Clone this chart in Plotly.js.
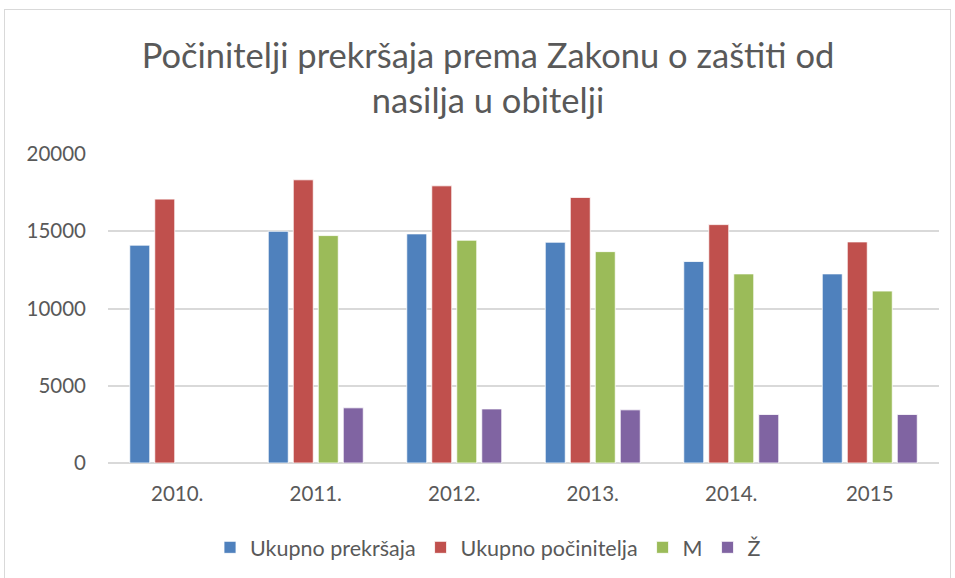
<!DOCTYPE html>
<html>
<head>
<meta charset="utf-8">
<script src="https://cdn.plot.ly/plotly-3.0.1.min.js"></script>
<style>
  html, body { margin: 0; padding: 0; background: #fff; }
  #wrap { position: relative; width: 955px; height: 578px; }
  #chart { position: absolute; left: 0; top: 0; width: 955px; height: 578px; }
  #frame { position: absolute; left: 4px; top: 9px; width: 945px; height: 600px; border: 1px solid #d9d9d9; pointer-events: none; }
</style>
</head>
<body>
<div id="wrap">
  <div id="chart"></div>
  <div id="frame"></div>
</div>
<script>
const categories = ["2010.", "2011.", "2012.", "2013.", "2014.", "2015"];
const ukupnoPrekrsaja = [14100, 15000, 14830, 14290, 13040, 12240];
const ukupnoPocinitelja = [17080, 18330, 17940, 17190, 15430, 14310];
const muski = [null, 14720, 14420, 13680, 12240, 11130];
const zenski = [null, 3570, 3500, 3440, 3140, 3140];
const seriesNames = ["Ukupno prekršaja", "Ukupno počinitelja", "M", "Ž"];
const yTicks = [0, 5000, 10000, 15000, 20000];

const colors = ["#4f81bd", "#c0504d", "#9bbb59", "#8064a2"];
const values = [ukupnoPrekrsaja, ukupnoPocinitelja, muski, zenski];
const FONT = "Lato, 'Open Sans', sans-serif";

const data = values.map((v, i) => ({
  type: "bar",
  name: seriesNames[i],
  x: categories,
  y: v,
  marker: { color: colors[i], line: { color: "#ffffff", width: 0.8 } },
  hoverinfo: "x+y+name"
}));

const layout = {
  width: 955,
  height: 578,
  margin: { l: 108, r: 16, t: 154, b: 115 },
  paper_bgcolor: "#ffffff",
  plot_bgcolor: "#ffffff",
  barmode: "group",
  bargap: 0.278,
  bargroupgap: 0.2,
  font: { family: FONT, color: "#595959", size: 20 },
  title: {
    text: "Počinitelji prekršaja prema Zakonu o zaštiti od<br>nasilja u obitelji",
    x: 0.511,
    xanchor: "center",
    y: 0.882,
    yanchor: "top",
    font: { family: FONT, size: 34.5, color: "#595959" }
  },
  xaxis: {
    type: "category",
    showgrid: false,
    showline: false,
    ticks: "",
    ticklabelstandoff: 16,
    tickfont: { family: FONT, size: 20.5, color: "#595959" },
    fixedrange: true
  },
  yaxis: {
    range: [0, 20000],
    tickvals: yTicks,
    ticktext: yTicks.map(String),
    showgrid: true,
    gridcolor: "#d9d9d9",
    gridwidth: 1.5,
    zeroline: true,
    zerolinecolor: "#d9d9d9",
    zerolinewidth: 1.5,
    showline: false,
    ticks: "",
    ticklabelstandoff: 21,
    tickfont: { family: FONT, size: 20.5, color: "#595959" },
    fixedrange: true
  },
  showlegend: true,
  legend: {
    orientation: "h",
    xref: "container",
    yref: "container",
    x: 0.511,
    xanchor: "center",
    y: 0.053,
    yanchor: "middle",
    font: { family: FONT, size: 21.5, color: "#595959" },
    itemwidth: 30,
    traceorder: "normal"
  }
};

Plotly.newPlot("chart", data, layout, { displayModeBar: false });
</script>
</body>
</html>
